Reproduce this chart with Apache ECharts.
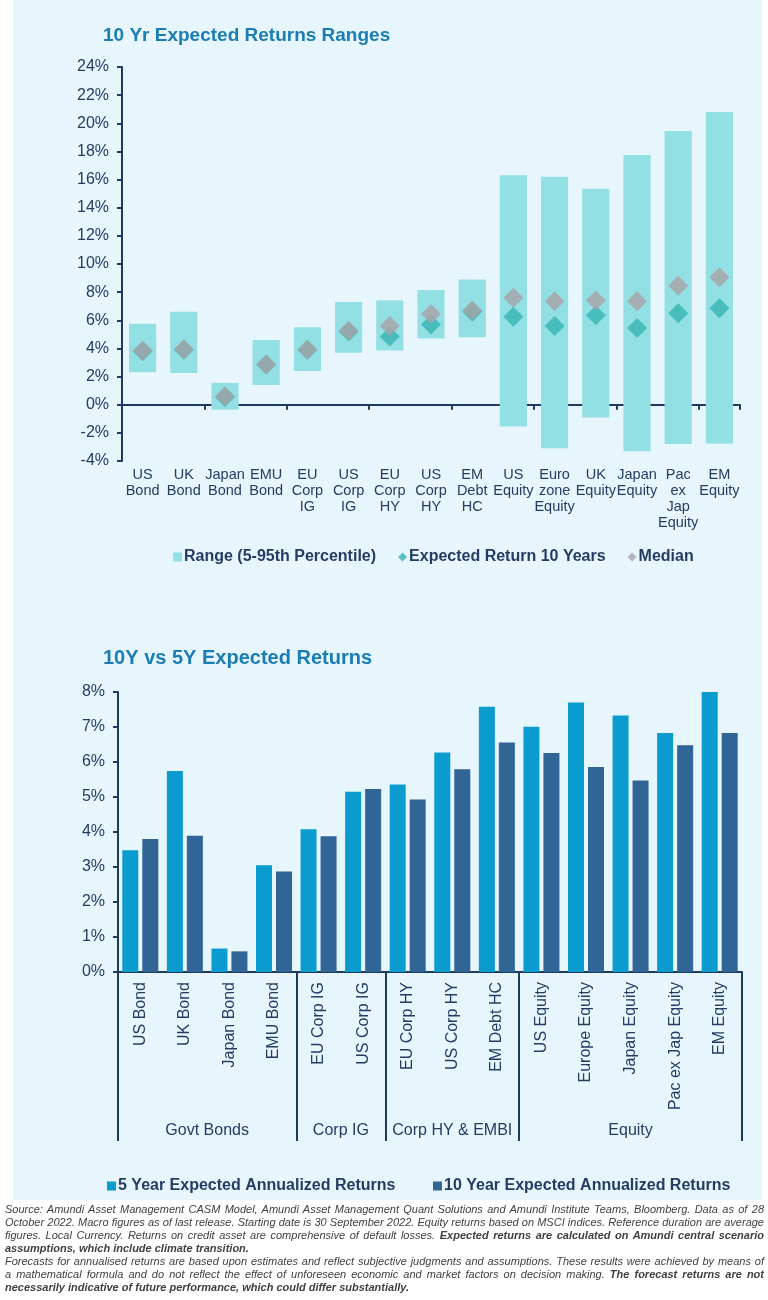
<!DOCTYPE html>
<html><head><meta charset="utf-8">
<script src="https://cdn.jsdelivr.net/npm/echarts@6/dist/echarts.min.js"></script>
<style>
html,body{margin:0;padding:0;background:#fff;}
#wrap{position:relative;width:768px;height:1300px;}
#panel{position:absolute;left:13px;top:0;width:749px;height:1200px;background:#E7F5FD;}
#chart{position:absolute;left:0;top:0;width:768px;height:1300px;}
#note{position:absolute;left:5px;top:1203px;width:759px;font-family:'Liberation Sans',Arial,sans-serif;font-style:italic;font-size:11px;line-height:13px;color:#404040;}
#note span{display:block;text-align:justify;text-align-last:justify;white-space:nowrap;overflow:visible;}
#note span.last{text-align-last:left;}
#note b{font-weight:bold;}
</style></head>
<body>
<div id="wrap">
<div id="panel"></div>
<div id="chart"></div>
<div id="note">
<span>Source: Amundi Asset Management CASM Model, Amundi Asset Management Quant Solutions and Amundi Institute Teams, Bloomberg. Data as of 28</span>
<span>October 2022. Macro figures as of last release. Starting date is 30 September 2022. Equity returns based on MSCI indices. Reference duration are average</span>
<span>figures. Local Currency. Returns on credit asset are comprehensive of default losses. <b>Expected returns are calculated on Amundi central scenario</b></span>
<span class="last"><b>assumptions, which include climate transition.</b></span>
<span>Forecasts for annualised returns are based upon estimates and reflect subjective judgments and assumptions. These results were achieved by means of</span>
<span>a mathematical formula and do not reflect the effect of unforeseen economic and market factors on decision making. <b>The forecast returns are not</b></span>
<span class="last"><b>necessarily indicative of future performance, which could differ substantially.</b></span>
</div>
</div>
<script>
// ---- Chart 1 data ----
var rangeCategories = ['US\nBond','UK\nBond','Japan\nBond','EMU\nBond','EU\nCorp\nIG','US\nCorp\nIG','EU\nCorp\nHY','US\nCorp\nHY','EM\nDebt\nHC','US\nEquity','Euro\nzone\nEquity','UK\nEquity','Japan\nEquity','Pac\nex\nJap\nEquity','EM\nEquity'];
var rangeLow  = [2.3, 2.25, -0.35, 1.4, 2.4, 3.7, 3.85, 4.7, 4.8, -1.55, -3.1, -0.9, -3.3, -2.8, -2.75];
var rangeHigh = [5.75, 6.6, 1.55, 4.6, 5.5, 7.3, 7.4, 8.15, 8.9, 16.3, 16.2, 15.35, 17.75, 19.45, 20.8];
var expected10y = [3.8, 3.9, 0.55, 2.85, 3.9, 5.2, 4.85, 5.7, 6.6, 6.25, 5.6, 6.35, 5.45, 6.5, 6.85];
var median = [3.85, 3.95, 0.6, 2.85, 3.9, 5.25, 5.6, 6.45, 6.7, 7.6, 7.35, 7.4, 7.35, 8.45, 9.05];
var rangeYTicks = [-4, 24, 2];

// ---- Chart 2 data ----
var retCategories = ['US Bond','UK Bond','Japan Bond','EMU Bond','EU Corp IG','US Corp IG','EU Corp HY','US Corp HY','EM Debt HC','US Equity','Europe Equity','Japan Equity','Pac ex Jap Equity','EM Equity'];
var ret5y  = [3.48, 5.74, 0.67, 3.05, 4.08, 5.15, 5.36, 6.27, 7.58, 7.01, 7.70, 7.33, 6.83, 8.00];
var ret10y = [3.80, 3.89, 0.59, 2.87, 3.88, 5.23, 4.93, 5.79, 6.56, 6.26, 5.86, 5.47, 6.48, 6.83];
var groupNames = ['Govt Bonds','Corp IG','Corp HY & EMBI','Equity'];
var groupSizes = [4, 2, 3, 5];

var NAVY = '#1F3A60';
var TXT = '#243C64';
var TITLE = '#1A7DB4';
var SANS = "'Liberation Sans',Arial,sans-serif";

// group boundaries and centres computed from group sizes
var bounds = [0], centres = [];
groupSizes.forEach(function(s){ var b = bounds[bounds.length-1]; centres.push(b + s/2); bounds.push(b + s); });

var chart = echarts.init(document.getElementById('chart'), null, {renderer:'canvas'});
var rangeData = rangeLow.map(function(l,i){ return [i, l, rangeHigh[i]]; });

var legText = {fontFamily:SANS, fontSize:16, fontWeight:'bold', color:TXT, padding:[0,0,0,-3]};

chart.setOption({
  backgroundColor: 'transparent',
  animation: false,
  title: [
    {text:'10 Yr Expected Returns Ranges', left: 98, top: 21, textStyle:{fontFamily:SANS, fontSize:19, fontWeight:'bold', color:TITLE}},
    {text:'10Y vs 5Y Expected Returns', left: 98, top: 643, textStyle:{fontFamily:SANS, fontSize:20, fontWeight:'bold', color:TITLE}}
  ],
  legend: [
    {left: 168, top: 544, itemWidth: 9, itemHeight: 9, itemGap: 22, textStyle:legText,
     data:[{name:'Range (5-95th Percentile)', icon:'rect'},{name:'Expected Return 10 Years', icon:'diamond'},{name:'Median', icon:'diamond'}]},
    {left: 102, top: 1173, itemWidth: 9, itemHeight: 9, textStyle:legText,
     data:[{name:'5 Year Expected Annualized Returns', icon:'rect'}]},
    {left: 428, top: 1173, itemWidth: 9, itemHeight: 9, textStyle:legText,
     data:[{name:'10 Year Expected Annualized Returns', icon:'rect'}]}
  ],
  grid: [
    {left:122, right:28, top:67, bottom:839, containLabel:false},
    {left:118, right:26, top:692, bottom:328, containLabel:false}
  ],
  xAxis: [
    {gridIndex:0, type:'category', data:rangeCategories, position:'bottom',
     axisLine:{show:false, onZero:false}, axisTick:{show:false},
     axisLabel:{interval:0, fontFamily:SANS, fontSize:14.5, lineHeight:16, color:TXT, margin:6}},
    {gridIndex:0, type:'category', data:rangeCategories, position:'bottom',
     axisLine:{show:true, onZero:true, onZeroAxisIndex:0, lineStyle:{color:NAVY, width:2}},
     axisTick:{show:true, length:5, lineStyle:{color:NAVY, width:2}},
     axisLabel:{show:false}},
    {gridIndex:1, type:'category', data:retCategories, position:'bottom',
     axisLine:{show:true, lineStyle:{color:NAVY, width:2}}, axisTick:{show:false},
     axisLabel:{interval:0, rotate:90, fontFamily:SANS, fontSize:16, color:TXT, margin:10}},
    {gridIndex:1, type:'value', min:0, max:retCategories.length, position:'bottom',
     axisLine:{show:false}, splitLine:{show:false},
     axisTick:{show:true, customValues:bounds, length:169, lineStyle:{color:NAVY, width:2}},
     axisLabel:{show:true, customValues:centres, margin:151, fontFamily:SANS, fontSize:16, color:TXT,
       formatter:function(v){ var i = centres.indexOf(v); return i>=0 ? groupNames[i] : ''; }}}
  ],
  yAxis: [
    {gridIndex:0, type:'value', min:rangeYTicks[0], max:rangeYTicks[1], interval:rangeYTicks[2],
     axisLine:{show:true, lineStyle:{color:NAVY, width:2}},
     axisTick:{show:true, length:5, lineStyle:{color:NAVY, width:2}},
     splitLine:{show:false},
     axisLabel:{fontFamily:SANS, fontSize:16, color:TXT, margin:13, formatter:'{value}%'}},
    {gridIndex:1, type:'value', min:0, max:8, interval:1,
     axisLine:{show:true, lineStyle:{color:NAVY, width:2}},
     axisTick:{show:true, length:5, lineStyle:{color:NAVY, width:2}},
     splitLine:{show:false},
     axisLabel:{fontFamily:SANS, fontSize:16, color:TXT, margin:13, formatter:'{value}%'}}
  ],
  series: [
    {name:'Range (5-95th Percentile)', type:'custom', xAxisIndex:0, yAxisIndex:0,
     itemStyle:{color:'#92E0E4'},
     encode:{x:0, y:[1,2]},
     data: rangeData,
     renderItem:function(params, api){
       var hi = api.coord([api.value(0), api.value(2)]);
       var lo = api.coord([api.value(0), api.value(1)]);
       var w = api.size([1,0])[0] * 0.66;
       return {type:'rect', shape:{x:hi[0]-w/2, y:hi[1], width:w, height:lo[1]-hi[1]}, style:{fill:'#92E0E4'}};
     }},
    {name:'Expected Return 10 Years', type:'scatter', xAxisIndex:0, yAxisIndex:0,
     symbol:'diamond', symbolSize:20, itemStyle:{color:'#37B4B2'}, data:expected10y},
    {name:'Median', type:'scatter', xAxisIndex:0, yAxisIndex:0,
     symbol:'diamond', symbolSize:20, itemStyle:{color:'#A9A2A6'}, data:median},
    {name:'5 Year Expected Annualized Returns', type:'bar', xAxisIndex:2, yAxisIndex:1,
     barWidth:16, barGap:'25%', itemStyle:{color:'#0A9BCF'}, data:ret5y},
    {name:'10 Year Expected Annualized Returns', type:'bar', xAxisIndex:2, yAxisIndex:1,
     barWidth:16, barGap:'25%', itemStyle:{color:'#316595'}, data:ret10y}
  ]
});
</script>
</body></html>
